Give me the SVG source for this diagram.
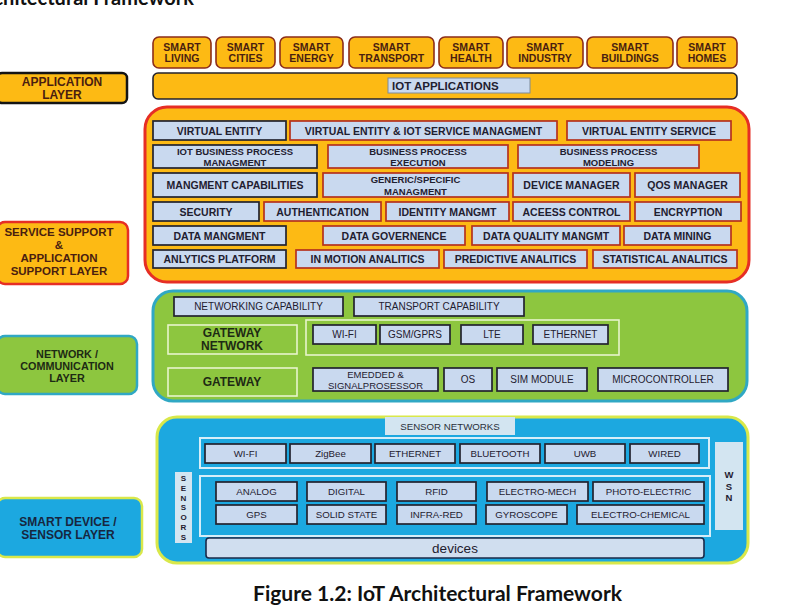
<svg xmlns="http://www.w3.org/2000/svg" width="812" height="615" viewBox="0 0 812 615">
<style>
.bg{fill:#ffffff}
.ob{fill:#FDBA14;stroke:#8C2D19;stroke-width:1.6}
.lb{fill:#C9D9EF}
.sd{stroke:#23232e;stroke-width:1.7}
.sr{stroke:#B5321E;stroke-width:1.7}
.sg{stroke:#7d8a99;stroke-width:1}
.t{font-family:"Liberation Sans",Arial,sans-serif;font-weight:bold;font-size:10.5px;text-anchor:middle;fill:#1f2030}
.t2{font-size:9.5px}
.n{font-weight:normal;font-size:10px}
.s{font-weight:normal;font-size:9.7px}
.tb{fill:#4A1E10}
.tl{font-size:12px}
.tg{font-size:12px;fill:#1d2a14}
.outw{fill:none;stroke:#E8F4CC;stroke-width:1.6}
.outb{fill:none;stroke:#D6EEF9;stroke-width:2}
.head{font-family:Lato,"Open Sans",sans-serif;font-weight:bold;font-size:20px;fill:#111}
</style>
<rect class="bg" x="0" y="0" width="812" height="615"/>
<text class="head" x="194" y="5" text-anchor="end">IoT Architectural Framework</text>

<!-- Application layer -->
<g id="app-layer-label">
<rect x="-3" y="73" width="130" height="30" rx="5" fill="#FDBA14" stroke="#141414" stroke-width="2.5"/>
<text class="t tl tb" x="62" y="86">APPLICATION</text>
<text class="t tl tb" x="62" y="99">LAYER</text>
</g>
<g id="smart-living"><rect class="ob" x="153" y="37" width="58" height="31" rx="6"/><text class="t tb" x="182" y="51">SMART</text><text class="t tb" x="182" y="62">LIVING</text></g>
<g id="smart-cities"><rect class="ob" x="216" y="37" width="59" height="31" rx="6"/><text class="t tb" x="245.5" y="51">SMART</text><text class="t tb" x="245.5" y="62">CITIES</text></g>
<g id="smart-energy"><rect class="ob" x="280" y="37" width="63" height="31" rx="6"/><text class="t tb" x="311.5" y="51">SMART</text><text class="t tb" x="311.5" y="62">ENERGY</text></g>
<g id="smart-transport"><rect class="ob" x="349" y="37" width="85" height="31" rx="6"/><text class="t tb" x="391.5" y="51">SMART</text><text class="t tb" x="391.5" y="62">TRANSPORT</text></g>
<g id="smart-health"><rect class="ob" x="439" y="37" width="64" height="31" rx="6"/><text class="t tb" x="471" y="51">SMART</text><text class="t tb" x="471" y="62">HEALTH</text></g>
<g id="smart-industry"><rect class="ob" x="507" y="37" width="76" height="31" rx="6"/><text class="t tb" x="545" y="51">SMART</text><text class="t tb" x="545" y="62">INDUSTRY</text></g>
<g id="smart-buildings"><rect class="ob" x="587" y="37" width="86" height="31" rx="6"/><text class="t tb" x="630" y="51">SMART</text><text class="t tb" x="630" y="62">BUILDINGS</text></g>
<g id="smart-homes"><rect class="ob" x="677" y="37" width="60" height="31" rx="6"/><text class="t tb" x="707" y="51">SMART</text><text class="t tb" x="707" y="62">HOMES</text></g>
<g id="iot-applications">
<rect x="153" y="73" width="584" height="26" rx="5" fill="#FDBA14" stroke="#23232e" stroke-width="1.6"/>
<rect class="lb sg" x="388" y="78" width="142" height="15"/>
<text class="t" x="392" y="90" style="font-size:11.5px;text-anchor:start">IOT APPLICATIONS</text>
</g>

<!-- Service support layer -->
<g id="service-layer-label">
<rect x="-3" y="222" width="131" height="62" rx="8" fill="#FDBA14" stroke="#E62E25" stroke-width="2.5"/>
<text class="t tb" x="59" y="236" style="font-size:11.5px">SERVICE SUPPORT</text>
<text class="t tb" x="59" y="249" style="font-size:11.5px">&amp;</text>
<text class="t tb" x="59" y="262" style="font-size:11.5px">APPLICATION</text>
<text class="t tb" x="59" y="275" style="font-size:11.5px">SUPPORT  LAYER</text>
</g>
<g id="service-layer">
<rect x="145" y="107" width="604" height="175" rx="22" fill="#FDBA14" stroke="#E62E25" stroke-width="3"/>
<g id="virtual-entity"><rect class="lb sd" x="153" y="121" width="133" height="19"/><text class="t" x="219.5" y="134.5">VIRTUAL ENTITY</text></g>
<g id="ve-iot-service-mgmt"><rect class="lb sr" x="290" y="121" width="267" height="19"/><text class="t" x="423.5" y="134.5">VIRTUAL ENTITY &amp; IOT SERVICE MANAGMENT</text></g>
<g id="ve-service"><rect class="lb sr" x="567" y="121" width="164" height="19"/><text class="t" x="649" y="134.5">VIRTUAL ENTITY SERVICE</text></g>

<g id="iot-bp-mgmt"><rect class="lb sd" x="153" y="145" width="164" height="23"/><text class="t t2" x="235" y="154.5">IOT BUSINESS PROCESS</text><text class="t t2" x="235" y="165.5">MANAGMENT</text></g>
<g id="bp-execution"><rect class="lb sr" x="328" y="145" width="180" height="23"/><text class="t t2" x="418" y="154.5">BUSINESS  PROCESS</text><text class="t t2" x="418" y="165.5">EXECUTION</text></g>
<g id="bp-modeling"><rect class="lb sr" x="518" y="145" width="181" height="23"/><text class="t t2" x="608.5" y="154.5">BUSINESS  PROCESS</text><text class="t t2" x="608.5" y="165.5">MODELING</text></g>

<g id="mgmt-capabilities"><rect class="lb sd" x="153" y="173" width="164" height="24"/><text class="t" x="235" y="189">MANGMENT CAPABILITIES</text></g>
<g id="generic-specific"><rect class="lb sr" x="323" y="173" width="185" height="24"/><text class="t t2" x="415.5" y="183">GENERIC/SPECIFIC</text><text class="t t2" x="415.5" y="194.5">MANAGMENT</text></g>
<g id="device-manager"><rect class="lb sr" x="513" y="173" width="117" height="24"/><text class="t" x="571.5" y="189">DEVICE MANAGER</text></g>
<g id="qos-manager"><rect class="lb sr" x="635" y="173" width="105" height="24"/><text class="t" x="687.5" y="189">QOS MANAGER</text></g>

<g id="security"><rect class="lb sd" x="153" y="202" width="106" height="19"/><text class="t" x="206" y="215.5">SECURITY</text></g>
<g id="authentication"><rect class="lb sr" x="264" y="202" width="117" height="19"/><text class="t" x="322.5" y="215.5">AUTHENTICATION</text></g>
<g id="identity-mgmt"><rect class="lb sr" x="386" y="202" width="123" height="19"/><text class="t" x="447.5" y="215.5">IDENTITY MANGMT</text></g>
<g id="access-control"><rect class="lb sr" x="513" y="202" width="117" height="19"/><text class="t" x="571.5" y="215.5">ACEESS CONTROL</text></g>
<g id="encryption"><rect class="lb sr" x="635" y="202" width="106" height="19"/><text class="t" x="688" y="215.5">ENCRYPTION</text></g>

<g id="data-mgmt"><rect class="lb sd" x="153" y="226" width="133" height="19"/><text class="t" x="219.5" y="239.5">DATA MANGMENT</text></g>
<g id="data-governence"><rect class="lb sr" x="323" y="226" width="142" height="19"/><text class="t" x="394" y="239.5">DATA GOVERNENCE</text></g>
<g id="data-quality"><rect class="lb sr" x="472" y="226" width="148" height="19"/><text class="t" x="546" y="239.5">DATA QUALITY MANGMT</text></g>
<g id="data-mining"><rect class="lb sr" x="624" y="226" width="107" height="19"/><text class="t" x="677.5" y="239.5">DATA MINING</text></g>

<g id="analytics-platform"><rect class="lb sd" x="153" y="250" width="133" height="18"/><text class="t" x="219.5" y="263">ANLYTICS PLATFORM</text></g>
<g id="in-motion"><rect class="lb sr" x="296" y="250" width="143" height="18"/><text class="t" x="367.5" y="263">IN MOTION ANALITICS</text></g>
<g id="predictive"><rect class="lb sr" x="444" y="250" width="143" height="18"/><text class="t" x="515.5" y="263">PREDICTIVE  ANALITICS</text></g>
<g id="statistical"><rect class="lb sr" x="593" y="250" width="144" height="18"/><text class="t" x="665" y="263">STATISTICAL ANALITICS</text></g>
</g>

<!-- Network layer -->
<g id="network-layer-label">
<rect x="-3" y="336" width="140" height="58" rx="8" fill="#8DC63F" stroke="#30A8C4" stroke-width="2.5"/>
<text class="t" x="67" y="357.5" style="font-size:10.8px;fill:#1d2a14">NETWORK /</text>
<text class="t" x="67" y="369.5" style="font-size:10.8px;fill:#1d2a14">COMMUNICATION</text>
<text class="t" x="67" y="381.5" style="font-size:10.8px;fill:#1d2a14">LAYER</text>
</g>
<g id="network-layer">
<rect x="153" y="291" width="594" height="110" rx="20" fill="#8DC63F" stroke="#30A8C4" stroke-width="3"/>
<g id="networking-capability"><rect class="lb sd" x="174" y="297" width="169" height="19"/><text class="t n" x="258.5" y="310">NETWORKING CAPABILITY</text></g>
<g id="transport-capability"><rect class="lb sd" x="354" y="297" width="170" height="19"/><text class="t n" x="439" y="310">TRANSPORT CAPABILITY</text></g>
<g id="gateway-network"><rect class="outw" x="168" y="325" width="129" height="29"/><text class="t tg" x="232" y="337">GATEWAY</text><text class="t tg" x="232" y="350">NETWORK</text></g>
<rect class="outw" x="306" y="320" width="313" height="35"/>
<g id="net-wifi"><rect class="lb sd" x="313" y="325" width="63" height="19"/><text class="t n" x="344.5" y="338">WI-FI</text></g>
<g id="net-gsm"><rect class="lb sd" x="380" y="325" width="70" height="19"/><text class="t n" x="415" y="338">GSM/GPRS</text></g>
<g id="net-lte"><rect class="lb sd" x="461" y="325" width="62" height="19"/><text class="t n" x="492" y="338">LTE</text></g>
<g id="net-ethernet"><rect class="lb sd" x="533" y="325" width="75" height="19"/><text class="t n" x="570.5" y="338">ETHERNET</text></g>
<g id="gateway"><rect class="outw" x="168" y="368" width="129" height="28"/><text class="t tg" x="232" y="386">GATEWAY</text></g>
<g id="embedded"><rect class="lb sd" x="313" y="368" width="125" height="23"/><text class="t n" x="375.5" y="377.5" style="font-size:9.5px">EMEDDED  &amp;</text><text class="t n" x="375.5" y="388.5" style="font-size:9.5px">SIGNALPROSESSOR</text></g>
<g id="os"><rect class="lb sd" x="444" y="368" width="48" height="23"/><text class="t n" x="468" y="383">OS</text></g>
<g id="sim-module"><rect class="lb sd" x="497" y="368" width="90" height="23"/><text class="t n" x="542" y="383">SIM MODULE</text></g>
<g id="microcontroller"><rect class="lb sd" x="598" y="368" width="130" height="23"/><text class="t n" x="663" y="383">MICROCONTROLLER</text></g>
</g>

<!-- Smart device / sensor layer -->
<g id="device-layer-label">
<rect x="-3" y="498" width="145" height="59" rx="8" fill="#1CA8E0" stroke="#D9E84A" stroke-width="2.5"/>
<text class="t tl" x="68" y="526" style="fill:#17263f">SMART  DEVICE /</text>
<text class="t tl" x="68" y="538.5" style="fill:#17263f">SENSOR LAYER</text>
</g>
<g id="device-layer">
<rect x="157" y="417" width="591" height="146" rx="20" fill="#1CA8E0" stroke="#D9E84A" stroke-width="3"/>
<g id="sensor-networks"><rect x="385" y="417" width="130" height="18" fill="#D3E5F1"/><text class="t s" x="450" y="429.5" style="fill:#2a2f3a">SENSOR NETWORKS</text></g>
<rect class="outb" x="200" y="438" width="509" height="30"/>
<g id="sn-wifi"><rect class="lb sd" x="205" y="444" width="81" height="19"/><text class="t s" x="245.5" y="457">WI-FI</text></g>
<g id="sn-zigbee"><rect class="lb sd" x="290" y="444" width="81" height="19"/><text class="t s" x="330.5" y="457">ZigBee</text></g>
<g id="sn-ethernet"><rect class="lb sd" x="375" y="444" width="80" height="19"/><text class="t s" x="415" y="457">ETHERNET</text></g>
<g id="sn-bluetooth"><rect class="lb sd" x="460" y="444" width="80" height="19"/><text class="t s" x="500" y="457">BLUETOOTH</text></g>
<g id="sn-uwb"><rect class="lb sd" x="545" y="444" width="80" height="19"/><text class="t s" x="585" y="457">UWB</text></g>
<g id="sn-wired"><rect class="lb sd" x="630" y="444" width="69" height="19"/><text class="t s" x="664.5" y="457">WIRED</text></g>

<g id="wsn"><rect x="715" y="442" width="28" height="88" fill="#D3E5F1"/>
<text class="t" x="729" y="478" style="font-size:9.5px">W</text><text class="t" x="729" y="490" style="font-size:9.5px">S</text><text class="t" x="729" y="501" style="font-size:9.5px">N</text></g>

<g id="sensors"><rect x="175" y="472" width="17" height="71" fill="#D3E5F1"/>
<text class="t" x="183.5" y="481" style="font-size:8px">S</text><text class="t" x="183.5" y="491" style="font-size:8px">E</text><text class="t" x="183.5" y="500.5" style="font-size:8px">N</text><text class="t" x="183.5" y="510" style="font-size:8px">S</text><text class="t" x="183.5" y="520" style="font-size:8px">O</text><text class="t" x="183.5" y="530" style="font-size:8px">R</text><text class="t" x="183.5" y="540" style="font-size:8px">S</text></g>

<rect class="outb" x="200" y="476" width="510" height="60"/>
<g id="analog"><rect class="lb sd" x="216" y="482" width="81" height="19"/><text class="t s" x="256.5" y="495">ANALOG</text></g>
<g id="digital"><rect class="lb sd" x="307" y="482" width="79" height="19"/><text class="t s" x="346.5" y="495">DIGITAL</text></g>
<g id="rfid"><rect class="lb sd" x="397" y="482" width="79" height="19"/><text class="t s" x="436.5" y="495">RFID</text></g>
<g id="electro-mech"><rect class="lb sd" x="487" y="482" width="101" height="19"/><text class="t s" x="537.5" y="495">ELECTRO-MECH</text></g>
<g id="photo-electric"><rect class="lb sd" x="593" y="482" width="111" height="19"/><text class="t s" x="648.5" y="495">PHOTO-ELECTRIC</text></g>
<g id="gps"><rect class="lb sd" x="216" y="505" width="81" height="19"/><text class="t s" x="256.5" y="518">GPS</text></g>
<g id="solid-state"><rect class="lb sd" x="307" y="505" width="79" height="19"/><text class="t s" x="346.5" y="518">SOLID STATE</text></g>
<g id="infra-red"><rect class="lb sd" x="397" y="505" width="79" height="19"/><text class="t s" x="436.5" y="518">INFRA-RED</text></g>
<g id="gyroscope"><rect class="lb sd" x="486" y="505" width="81" height="19"/><text class="t s" x="526.5" y="518">GYROSCOPE</text></g>
<g id="electro-chemical"><rect class="lb sd" x="577" y="505" width="127" height="19"/><text class="t s" x="640.5" y="518">ELECTRO-CHEMICAL</text></g>

<g id="devices"><rect x="206" y="538" width="498" height="20" rx="3" fill="#D0DEEF" stroke="#1b2a4a" stroke-width="1.6"/><text x="455" y="553" text-anchor="middle" style="font-family:'Liberation Sans',Arial,sans-serif;font-size:13.5px;fill:#1f2030">devices</text></g>
</g>

<g id="connectors"></g>

<text class="head" x="437.5" y="601" text-anchor="middle" textLength="369" lengthAdjust="spacingAndGlyphs">Figure 1.2: IoT Architectural Framework</text>
</svg>
